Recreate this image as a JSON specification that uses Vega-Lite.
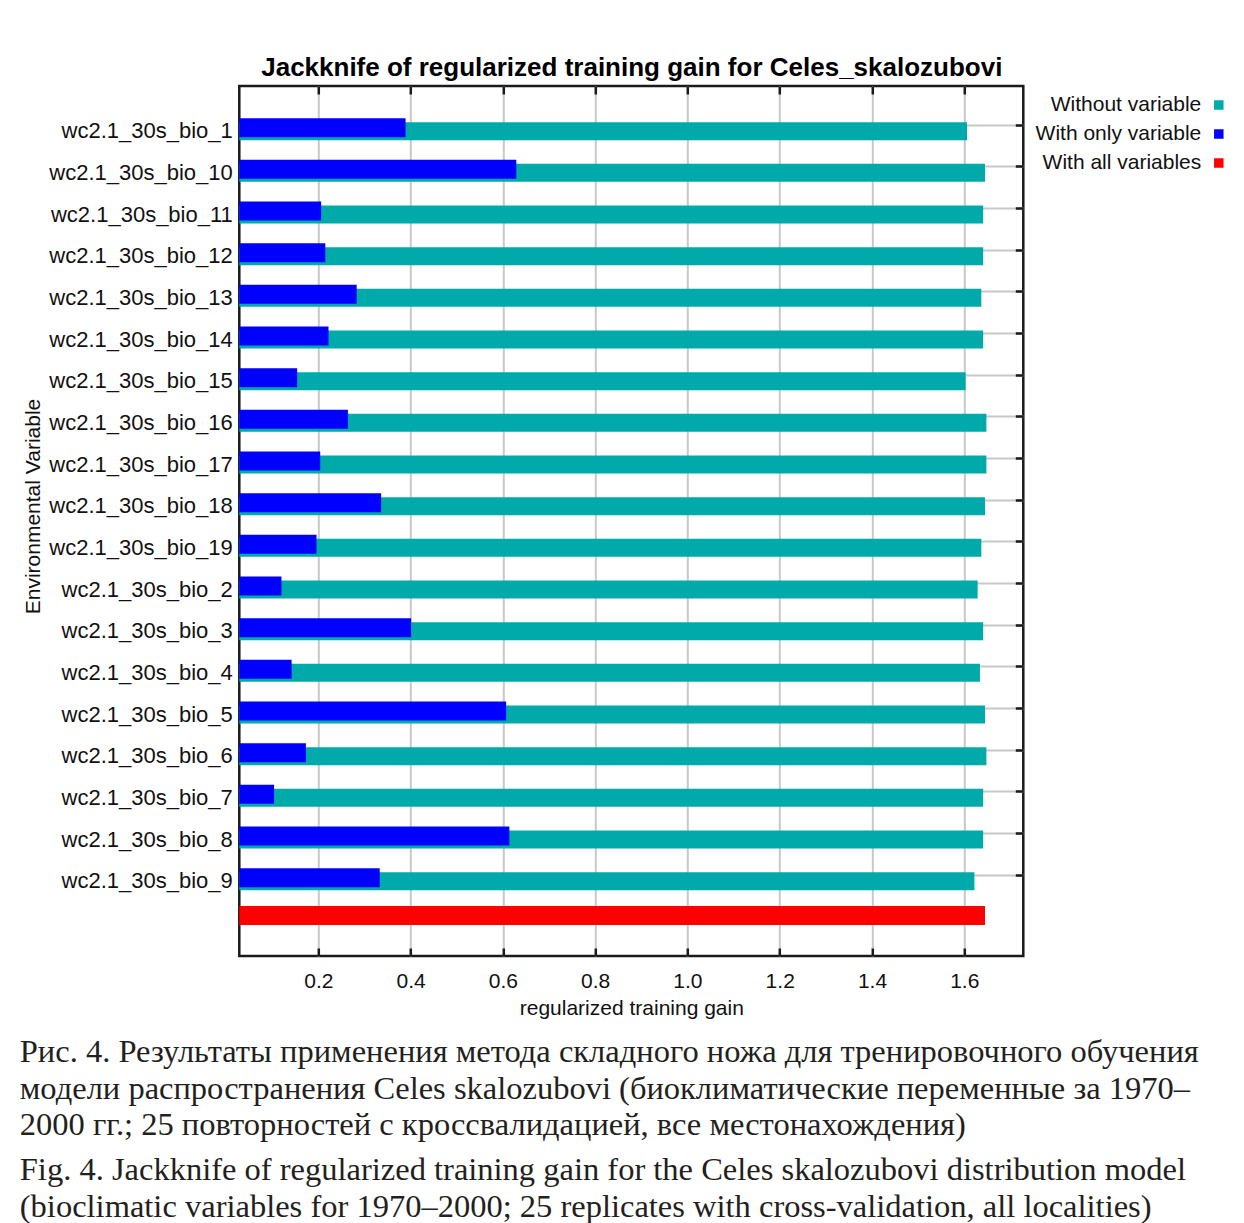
{
  "$schema": "https://vega.github.io/schema/vega-lite/v6.json",
  "width": 784,
  "height": 870,
  "autosize": {"type": "none"},
  "padding": {"left": 239.3, "top": 86, "right": 220.7, "bottom": 267},
  "background": "white",
  "config": {
    "view": {"stroke": "#1a1a1a", "strokeWidth": 2.5},
    "font": "Liberation Sans",
    "axis": {"labelFont": "Liberation Sans", "titleFont": "Liberation Sans", "labelColor": "#111", "titleColor": "#111", "domain": false}
  },
  "title": {
    "text": [
      "Рис. 4. Результаты применения метода складного ножа для тренировочного обучения",
      "модели распространения Celes skalozubovi (биоклиматические переменные за 1970–",
      "2000 гг.; 25 повторностей с кроссвалидацией, все местонахождения)"
    ],
    "subtitle": [
      "Fig. 4. Jackknife of regularized training gain for the Celes skalozubovi distribution model",
      "(bioclimatic variables for 1970–2000; 25 replicates with cross-validation, all localities)"
    ],
    "orient": "bottom",
    "anchor": "start",
    "frame": "bounds",
    "dx": -2.5,
    "offset": 18,
    "font": "Liberation Serif",
    "fontSize": 32.5,
    "fontWeight": "normal",
    "color": "#231f20",
    "lineHeight": 36.5,
    "subtitleFont": "Liberation Serif",
    "subtitleFontSize": 32.5,
    "subtitleColor": "#231f20",
    "subtitleLineHeight": 37,
    "subtitlePadding": 12.5
  },
  "data": {
    "values": [
      {"variable": "wc2.1_30s_bio_1", "series": "Without variable", "gain": 1.606},
      {"variable": "wc2.1_30s_bio_10", "series": "Without variable", "gain": 1.645},
      {"variable": "wc2.1_30s_bio_11", "series": "Without variable", "gain": 1.641},
      {"variable": "wc2.1_30s_bio_12", "series": "Without variable", "gain": 1.641},
      {"variable": "wc2.1_30s_bio_13", "series": "Without variable", "gain": 1.637},
      {"variable": "wc2.1_30s_bio_14", "series": "Without variable", "gain": 1.641},
      {"variable": "wc2.1_30s_bio_15", "series": "Without variable", "gain": 1.603},
      {"variable": "wc2.1_30s_bio_16", "series": "Without variable", "gain": 1.648},
      {"variable": "wc2.1_30s_bio_17", "series": "Without variable", "gain": 1.648},
      {"variable": "wc2.1_30s_bio_18", "series": "Without variable", "gain": 1.645},
      {"variable": "wc2.1_30s_bio_19", "series": "Without variable", "gain": 1.637},
      {"variable": "wc2.1_30s_bio_2", "series": "Without variable", "gain": 1.629},
      {"variable": "wc2.1_30s_bio_3", "series": "Without variable", "gain": 1.641},
      {"variable": "wc2.1_30s_bio_4", "series": "Without variable", "gain": 1.634},
      {"variable": "wc2.1_30s_bio_5", "series": "Without variable", "gain": 1.645},
      {"variable": "wc2.1_30s_bio_6", "series": "Without variable", "gain": 1.648},
      {"variable": "wc2.1_30s_bio_7", "series": "Without variable", "gain": 1.641},
      {"variable": "wc2.1_30s_bio_8", "series": "Without variable", "gain": 1.641},
      {"variable": "wc2.1_30s_bio_9", "series": "Without variable", "gain": 1.622},
      {"variable": "wc2.1_30s_bio_1", "series": "With only variable", "gain": 0.389},
      {"variable": "wc2.1_30s_bio_10", "series": "With only variable", "gain": 0.629},
      {"variable": "wc2.1_30s_bio_11", "series": "With only variable", "gain": 0.206},
      {"variable": "wc2.1_30s_bio_12", "series": "With only variable", "gain": 0.215},
      {"variable": "wc2.1_30s_bio_13", "series": "With only variable", "gain": 0.283},
      {"variable": "wc2.1_30s_bio_14", "series": "With only variable", "gain": 0.222},
      {"variable": "wc2.1_30s_bio_15", "series": "With only variable", "gain": 0.154},
      {"variable": "wc2.1_30s_bio_16", "series": "With only variable", "gain": 0.264},
      {"variable": "wc2.1_30s_bio_17", "series": "With only variable", "gain": 0.204},
      {"variable": "wc2.1_30s_bio_18", "series": "With only variable", "gain": 0.336},
      {"variable": "wc2.1_30s_bio_19", "series": "With only variable", "gain": 0.196},
      {"variable": "wc2.1_30s_bio_2", "series": "With only variable", "gain": 0.120},
      {"variable": "wc2.1_30s_bio_3", "series": "With only variable", "gain": 0.401},
      {"variable": "wc2.1_30s_bio_4", "series": "With only variable", "gain": 0.142},
      {"variable": "wc2.1_30s_bio_5", "series": "With only variable", "gain": 0.607},
      {"variable": "wc2.1_30s_bio_6", "series": "With only variable", "gain": 0.173},
      {"variable": "wc2.1_30s_bio_7", "series": "With only variable", "gain": 0.104},
      {"variable": "wc2.1_30s_bio_8", "series": "With only variable", "gain": 0.614},
      {"variable": "wc2.1_30s_bio_9", "series": "With only variable", "gain": 0.333},
      {"variable": "all", "series": "With all variables", "gain": 1.645}
    ]
  },
  "encoding": {
    "y": {
      "field": "variable",
      "type": "nominal",
      "scale": {
        "domain": ["wc2.1_30s_bio_1", "wc2.1_30s_bio_10", "wc2.1_30s_bio_11", "wc2.1_30s_bio_12", "wc2.1_30s_bio_13", "wc2.1_30s_bio_14", "wc2.1_30s_bio_15", "wc2.1_30s_bio_16", "wc2.1_30s_bio_17", "wc2.1_30s_bio_18", "wc2.1_30s_bio_19", "wc2.1_30s_bio_2", "wc2.1_30s_bio_3", "wc2.1_30s_bio_4", "wc2.1_30s_bio_5", "wc2.1_30s_bio_6", "wc2.1_30s_bio_7", "wc2.1_30s_bio_8", "wc2.1_30s_bio_9", "all"],
        "paddingInner": 0,
        "paddingOuter": 0.44
      }
    },
    "x": {
      "field": "gain",
      "type": "quantitative",
      "scale": {"domain": [0.0286, 1.728], "nice": false, "zero": false}
    },
    "color": {
      "field": "series",
      "type": "nominal",
      "scale": {"domain": ["Without variable", "With only variable", "With all variables"], "range": ["#00aaaa", "#0000ff", "#ff0000"]},
      "legend": {
        "title": null,
        "orient": "none",
        "legendX": 969,
        "legendY": 8.5,
        "padding": 0,
        "symbolType": "square",
        "symbolSize": 90,
        "symbolStrokeWidth": 0,
        "labelAlign": "right",
        "labelOffset": -28,
        "labelFont": "Liberation Sans",
        "labelFontSize": 21,
        "labelColor": "#111",
        "rowPadding": 7,
        "labelLimit": 400
      }
    }
  },
  "layer": [
    {
      "transform": [{"filter": "datum.series == 'Without variable'"}],
      "mark": {"type": "bar", "height": 18, "yOffset": 6, "clip": true},
      "encoding": {
        "y": {
          "field": "variable",
          "type": "nominal",
          "axis": {
            "orient": "left",
            "title": "Environmental Variable",
            "titleFontSize": 21,
            "titleFontWeight": "normal",
            "titleBaseline": "alphabetic",
            "titleX": -200,
            "titleY": 420,
            "labelFontSize": 22,
            "labelPadding": 7,
            "labelOffset": 6,
            "labelLimit": 400,
            "ticks": false,
            "grid": false,
            "values": ["wc2.1_30s_bio_1", "wc2.1_30s_bio_10", "wc2.1_30s_bio_11", "wc2.1_30s_bio_12", "wc2.1_30s_bio_13", "wc2.1_30s_bio_14", "wc2.1_30s_bio_15", "wc2.1_30s_bio_16", "wc2.1_30s_bio_17", "wc2.1_30s_bio_18", "wc2.1_30s_bio_19", "wc2.1_30s_bio_2", "wc2.1_30s_bio_3", "wc2.1_30s_bio_4", "wc2.1_30s_bio_5", "wc2.1_30s_bio_6", "wc2.1_30s_bio_7", "wc2.1_30s_bio_8", "wc2.1_30s_bio_9"]
          }
        },
        "x": {
          "field": "gain",
          "type": "quantitative",
          "axis": {
            "orient": "bottom",
            "title": "regularized training gain",
            "titleFontSize": 21,
            "titleFontWeight": "normal",
            "titleBaseline": "alphabetic",
            "titleY": 58,
            "values": [0.2, 0.4, 0.6, 0.8, 1.0, 1.2, 1.4, 1.6],
            "format": ".1f",
            "labelFontSize": 21,
            "labelBaseline": "alphabetic",
            "labelPadding": 39,
            "tickSize": -8,
            "tickWidth": 2.5,
            "tickColor": "#1a1a1a",
            "grid": true,
            "gridColor": "#c8c8c8",
            "gridWidth": 2
          }
        }
      }
    },
    {
      "transform": [{"filter": "datum.series == 'With only variable'"}],
      "mark": {"type": "bar", "height": 19, "yOffset": 2.5, "clip": true},
      "encoding": {
        "y": {
          "field": "variable",
          "type": "nominal",
          "axis": {
            "orient": "right",
            "title": null,
            "labels": false,
            "tickSize": -8,
            "tickWidth": 2.5,
            "tickColor": "#1a1a1a",
            "grid": true,
            "gridColor": "#c8c8c8",
            "gridWidth": 2,
            "values": ["wc2.1_30s_bio_1", "wc2.1_30s_bio_10", "wc2.1_30s_bio_11", "wc2.1_30s_bio_12", "wc2.1_30s_bio_13", "wc2.1_30s_bio_14", "wc2.1_30s_bio_15", "wc2.1_30s_bio_16", "wc2.1_30s_bio_17", "wc2.1_30s_bio_18", "wc2.1_30s_bio_19", "wc2.1_30s_bio_2", "wc2.1_30s_bio_3", "wc2.1_30s_bio_4", "wc2.1_30s_bio_5", "wc2.1_30s_bio_6", "wc2.1_30s_bio_7", "wc2.1_30s_bio_8", "wc2.1_30s_bio_9"]
          }
        },
        "x": {
          "field": "gain",
          "type": "quantitative",
          "axis": {
            "orient": "top",
            "title": "Jackknife of regularized training gain for Celes_skalozubovi",
            "titleFontSize": 26,
            "titleFontWeight": "bold",
            "titleColor": "#000",
            "titleBaseline": "alphabetic",
            "titleY": -11,
            "values": [0.2, 0.4, 0.6, 0.8, 1.0, 1.2, 1.4, 1.6],
            "labels": false,
            "tickSize": -8,
            "tickWidth": 2.5,
            "tickColor": "#1a1a1a",
            "grid": false
          }
        }
      }
    },
    {
      "transform": [{"filter": "datum.series == 'With all variables'"}],
      "mark": {"type": "bar", "height": 19, "yOffset": -1.4, "clip": true},
      "encoding": {
        "y": {"field": "variable", "type": "nominal", "axis": null},
        "x": {"field": "gain", "type": "quantitative", "axis": null}
      }
    }
  ],
  "resolve": {"axis": {"x": "independent", "y": "independent"}}
}
